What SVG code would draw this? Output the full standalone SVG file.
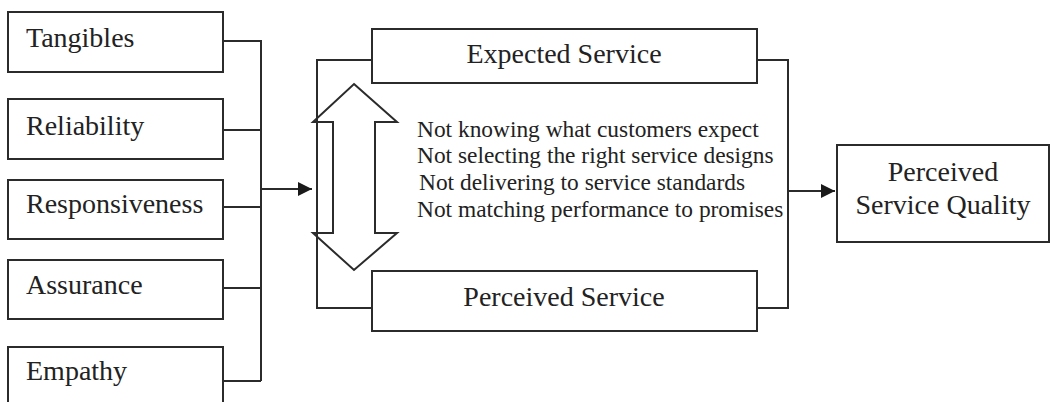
<svg xmlns="http://www.w3.org/2000/svg" width="1050" height="402" viewBox="0 0 1050 402">
<defs>
<style>
.box{fill:#fff;stroke:#2b2b2b;stroke-width:2}
.ln{fill:none;stroke:#2b2b2b;stroke-width:2}
.t{font-family:"Liberation Serif","Times New Roman",serif;fill:#222;font-size:28px}
.g{font-family:"Liberation Serif","Times New Roman",serif;fill:#222;font-size:23.4px}
</style>
<marker id="ah2" markerWidth="14" markerHeight="14" refX="14" refY="7" orient="auto" markerUnits="userSpaceOnUse">
<path d="M0,0 L14,7 L0,14 Z" fill="#1a1a1a"/>
</marker>
</defs>
<rect width="1050" height="402" fill="#fff"/>
<g id="connectors">
<path class="ln" d="M223,41 H261 V381 M223,130 H261 M223,207 H261 M223,288 H261 M223,381 H261"/>
<path class="ln" d="M261,189 H312" marker-end="url(#ah2)"/>
<path class="ln" d="M372,60 H317 V308 H372 M757,60 H788 V308 H757"/>
<path class="ln" d="M788,191 H835" marker-end="url(#ah2)"/>
<polygon id="gap-arrow" class="ln" points="354,84 397,122 375,122 375,233 397,233 354,270 313,233 333,233 333,122 313,122"/>
</g>
<g id="tangibles"><rect class="box" x="8" y="12" width="215" height="60"/><text class="t" x="26" y="47">Tangibles</text></g>
<g id="reliability"><rect class="box" x="8" y="99" width="215" height="60"/><text class="t" x="26" y="135">Reliability</text></g>
<g id="responsiveness"><rect class="box" x="8" y="180" width="215" height="59"/><text class="t" x="26" y="213">Responsiveness</text></g>
<g id="assurance"><rect class="box" x="8" y="260" width="215" height="59"/><text class="t" x="26" y="294">Assurance</text></g>
<g id="empathy"><rect class="box" x="8" y="347" width="215" height="60"/><text class="t" x="26" y="380">Empathy</text></g>
<g id="expected-service"><rect class="box" x="372" y="29" width="385" height="54"/><text class="t" x="564" y="63" text-anchor="middle">Expected Service</text></g>
<g id="perceived-service"><rect class="box" x="372" y="271" width="385" height="60"/><text class="t" x="564" y="306" text-anchor="middle">Perceived Service</text></g>
<g id="gaps">
<text class="g" x="417" y="137">Not knowing what customers expect</text>
<text class="g" x="417" y="163">Not selecting the right service designs</text>
<text class="g" x="419" y="190">Not delivering to service standards</text>
<text class="g" x="417" y="217">Not matching performance to promises</text>
</g>
<g id="perceived-service-quality"><rect class="box" x="837" y="145" width="212" height="97"/><text class="t" x="943" y="181" text-anchor="middle">Perceived</text><text class="t" x="943" y="214" text-anchor="middle">Service Quality</text></g>
</svg>
